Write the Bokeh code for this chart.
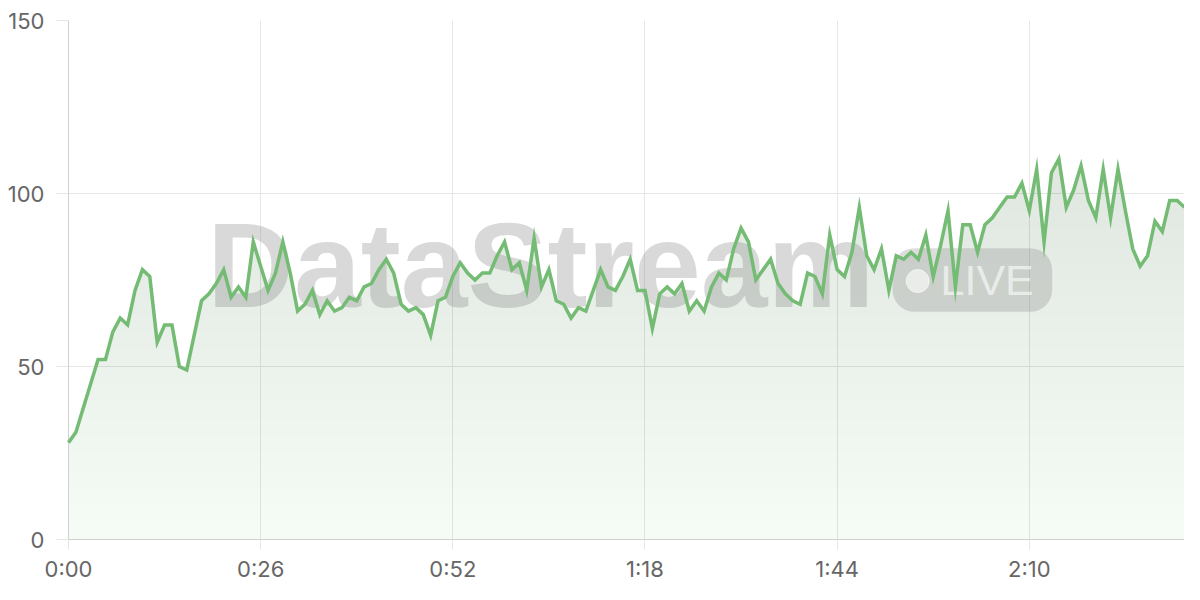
import numpy as np
from bokeh.plotting import figure
from bokeh.models import FixedTicker, Label, BoxAnnotation, Range1d
from bokeh.embed import file_html
from bokeh.resources import INLINE

# ---- data (seconds since start, value) ----
seconds = list(range(152))
values = [
    28, 31, 38, 45, 52, 52, 60, 64, 62, 72,
    78, 76, 57, 62, 62, 50, 49, 59, 69, 71,
    74, 78, 70, 73, 70, 86, 79, 72, 77, 86,
    77, 66, 68, 72, 65, 69, 66, 67, 70, 69,
    73, 74, 78, 81, 77, 68, 66, 67, 65, 59,
    69, 70, 76, 80, 77, 75, 77, 77, 82, 86,
    78, 80, 72, 87, 73, 78, 69, 68, 64, 67,
    66, 72, 78, 73, 72, 76, 81, 72, 72, 61,
    71, 73, 71, 74, 66, 69, 66, 73, 77, 75,
    84, 90, 86, 75, 78, 81, 74, 71, 69, 68,
    77, 76, 71, 88, 78, 76, 83, 96, 82, 78,
    84, 72, 82, 81, 83, 81, 88, 76, 85, 95,
    73, 91, 91, 83, 91, 93, 96, 99, 99, 103,
    95, 107, 86, 106, 110, 96, 101, 108, 98, 93,
    107, 93, 107, 95, 84, 79, 82, 92, 89, 98,
    98, 96,
]
x_ticks = [0, 26, 52, 78, 104, 130]
x_tick_labels = ["0:00", "0:26", "0:52", "1:18", "1:44", "2:10"]
y_ticks = [0, 50, 100, 150]

LINE = "#74bb74"
FILL = "#4caf50"
GRID = "#e6e6e6"
AXIS = "#d0d0d0"
TXT = "#666666"
FONT = "Inter"

p = figure(width=1184, height=584, output_backend="svg", toolbar_location=None,
           x_range=Range1d(0, 151), y_range=Range1d(0, 150),
           min_border_left=68, min_border_right=0, min_border_top=20,
           min_border_bottom=44)
p.outline_line_color = None
p.background_fill_color = "white"
p.border_fill_color = "white"

# ---- gradient area: stacked translucent bands clipped to the line ----
def clip_above(xs, ys, level):
    ox, oy = [], []
    for i in range(len(xs)):
        ox.append(xs[i]); oy.append(max(ys[i], level))
        if i < len(xs) - 1:
            y0, y1 = ys[i], ys[i + 1]
            if (y0 - level) * (y1 - level) < 0:
                xc = xs[i] + (level - y0) / (y1 - y0) * (xs[i + 1] - xs[i])
                ox.append(xc); oy.append(level)
    return ox, oy

def target_alpha(h):
    return 0.055 + 0.23 * h / 150.0

levels = np.linspace(0, 150, 31)[:-1]
prev = 0.0
for L in levels:
    if L >= max(values):
        break
    t = target_alpha(L)
    a = 1 - (1 - t) / (1 - prev)
    prev = t
    bx, by = clip_above(seconds, values, float(L))
    p.varea(x=bx, y1=[float(L)] * len(bx), y2=by, fill_color=FILL, fill_alpha=a)

# ---- watermark ----
p.add_layout(Label(x=63.9, y=79.2, text="DataStream", text_font="Liberation Sans",
                   text_font_size="120px", text_font_style="bold",
                   text_color="#808080", text_alpha=0.3,
                   text_align="center", text_baseline="alphabetic"))
p.add_layout(BoxAnnotation(left=111.5, right=133.1, bottom=65.8, top=84.2,
                           fill_color="#808080", fill_alpha=0.27,
                           line_color=None, border_radius=22))
p.add_layout(Label(x=124.3, y=75.1, text="LIVE", text_font="Liberation Sans",
                   text_font_size="43px", text_color="white", text_alpha=0.6,
                   text_align="center", text_baseline="alphabetic"))
dot = p.scatter([114.9], [74.7], size=23, color="white", alpha=0.6)
dot.level = "overlay"

# ---- line ----
ln = p.line(seconds, values, line_color=LINE, line_width=3.5, line_join="miter")
ln.level = "overlay"

# ---- grid & axes ----
p.xgrid.ticker = FixedTicker(ticks=x_ticks)
p.ygrid.ticker = FixedTicker(ticks=y_ticks)
for g in (p.xgrid, p.ygrid):
    g.grid_line_color = GRID
    g.grid_line_width = 1

p.xaxis.ticker = FixedTicker(ticks=x_ticks)
p.xaxis.major_label_overrides = {k: v for k, v in zip(x_ticks, x_tick_labels)}
p.yaxis.ticker = FixedTicker(ticks=y_ticks)
for ax in (p.xaxis, p.yaxis):
    ax.axis_line_color = AXIS
    ax.axis_line_width = 1
    ax.major_tick_line_color = GRID
    ax.major_tick_in = 0
    ax.minor_tick_line_color = None
    ax.major_label_text_font = FONT
    ax.major_label_text_font_size = "22px"
    ax.major_label_text_color = TXT
p.xaxis.major_tick_out = 10
p.yaxis.major_tick_out = 12
p.xaxis.major_label_standoff = 6
p.yaxis.major_label_standoff = 12

open("out.html", "w").write(file_html(p, INLINE))
